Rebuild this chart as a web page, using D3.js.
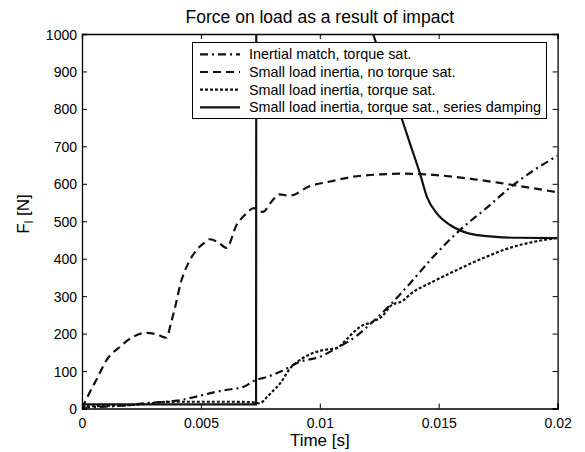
<!DOCTYPE html>
<html>
<head>
<meta charset="utf-8">
<script src="https://cdn.jsdelivr.net/npm/d3@7"></script>
<style>
  html, body { margin: 0; padding: 0; background: #fff; }
  svg { display: block; font-family: "Liberation Sans", Arial, Helvetica, sans-serif; }
</style>
</head>
<body>
<svg id="chart" width="585" height="452"></svg>
<script>
// ---- data (time in ms, force in N) ----
const titleText = "Force on load as a result of impact";
const xTicks = [0, 0.005, 0.01, 0.015, 0.02];
const xTickLabels = ["0", "0.005", "0.01", "0.015", "0.02"];
const yTicks = [0, 100, 200, 300, 400, 500, 600, 700, 800, 900, 1000];
const seriesNames = [
  "Inertial match, torque sat.",
  "Small load inertia, no torque sat.",
  "Small load inertia, torque sat.",
  "Small load inertia, torque sat., series damping"
];

const inertialT = [0, 1, 2, 2.6, 3.3, 4.0, 4.7, 5.4, 6.1, 6.8, 7.34, 7.6, 8.33, 9.17, 10.0, 10.7, 11.55, 12.25, 12.95, 13.79, 14.77, 15.9, 17.0, 18.14, 19.0, 20.0];
const inertialF = [2, 5, 9, 14, 17, 21, 30, 41, 50, 58, 77, 81, 98, 125, 138, 161, 194, 233, 276, 334, 405, 477, 535, 597, 636, 675];

const noSatT = [0, 0.3, 0.6, 1.04, 1.6, 2.16, 2.72, 3.14, 3.55, 3.75, 3.95, 4.15, 4.47, 4.82, 5.1, 5.38, 5.7, 6.08, 6.5, 6.85, 7.23, 7.6, 8.0, 8.3, 8.7, 9.0, 9.45, 10.43, 11.41, 12.53, 13.5, 14.5, 15.61, 16.5, 17.5, 18.2, 19.0, 20.0];
const noSatF = [0, 40, 76, 130, 165, 192, 202, 198, 189, 230, 280, 335, 388, 423, 440, 452, 445, 429, 490, 517, 535, 525, 555, 572, 568, 573, 590, 606, 619, 625, 627, 625, 619, 612, 603, 596, 588, 577];

const satT = [0, 1, 2, 2.8, 3.3, 4.0, 4.74, 5.5, 6.3, 7.1, 7.47, 7.8, 8.0, 8.33, 8.75, 9.17, 9.59, 10.15, 10.7, 11.13, 11.3, 11.69, 12.25, 12.6, 13.0, 13.5, 13.8, 14.77, 15.9, 17.0, 18.14, 19.0, 20.0];
const satF = [5, 7, 9, 13, 17, 18, 18, 18, 18, 17, 14, 32, 45, 67, 107, 130, 145, 156, 161, 185, 196, 218, 232, 245, 275, 288, 305, 339, 374, 405, 432, 445, 456];

const dampT = [0, 7.32, 7.33, 11.7, 12.24, 12.8, 13.44, 13.79, 14.21, 14.5, 14.92, 15.48, 16.18, 16.9, 18.28, 20.0];
const dampF = [11, 11, 1200, 1100, 1000, 895, 775, 708, 628, 566, 521, 490, 469, 461, 456, 455];

// ---- layout ----
const svg = d3.select("#chart");
const L = 82, R = 557.6, T = 34, B = 408.5;
const x = d3.scaleLinear().domain([0, 0.02]).range([L, R]);
const y = d3.scaleLinear().domain([0, 1000]).range([B, T]);

svg.append("defs").append("clipPath").attr("id", "plotclip")
  .append("rect").attr("x", L).attr("y", T).attr("width", R - L).attr("height", B - T);

const toPts = (ts, fs) => ts.map((t, i) => [t / 1000, fs[i]]);
const line = d3.line().x(d => x(d[0])).y(d => y(d[1])).curve(d3.curveMonotoneX);

const styles = [
  { dash: "8,4,2,4" },
  { dash: "8,5" },
  { dash: "3,2" },
  { dash: null }
];
const data = [
  toPts(inertialT, inertialF),
  toPts(noSatT, noSatF),
  toPts(satT, satF),
  toPts(dampT, dampF)
];

// axes
const axisColor = "#000";
const gx = svg.append("g").attr("transform", `translate(0,${B})`)
  .call(d3.axisBottom(x).tickValues(xTicks).tickSize(-5).tickPadding(10)
    .tickFormat((d, i) => xTickLabels[i]));
const gxt = svg.append("g").attr("transform", `translate(0,${T})`)
  .call(d3.axisTop(x).tickValues(xTicks).tickSize(-5).tickFormat(""));
const gy = svg.append("g").attr("transform", `translate(${L},0)`)
  .call(d3.axisLeft(y).tickValues(yTicks).tickSize(-5).tickPadding(5).tickFormat(d3.format("d")));
const gyr = svg.append("g").attr("transform", `translate(${R},0)`)
  .call(d3.axisRight(y).tickValues(yTicks).tickSize(-5).tickFormat(""));
[gx, gxt, gy, gyr].forEach(g => {
  g.select(".domain").attr("stroke", axisColor).attr("stroke-width", 1.3);
  g.selectAll(".tick line").attr("stroke", axisColor).attr("stroke-width", 1);
  g.selectAll(".tick text").attr("fill", "#000").style("font-size", "14px")
    .style("font-family", '"Liberation Sans", Arial, sans-serif');
});
gy.selectAll(".tick text").attr("dy", "0.36em");

// curves
const plot = svg.append("g").attr("clip-path", "url(#plotclip)");
data.forEach((pts, i) => {
  plot.append("path").datum(pts)
    .attr("d", line)
    .attr("fill", "none")
    .attr("stroke", "#111")
    .attr("stroke-width", 2.2)
    .attr("stroke-dasharray", styles[i].dash);
});

// title & labels
svg.append("text").attr("x", (L + R) / 2).attr("y", 23).attr("text-anchor", "middle")
  .style("font-size", "17.5px").text(titleText);
svg.append("text").attr("x", (L + R) / 2).attr("y", 446).attr("text-anchor", "middle")
  .style("font-size", "17px").text("Time [s]");
const yl = svg.append("text").attr("transform", `translate(29,214) rotate(-90)`)
  .attr("text-anchor", "middle").style("font-size", "17px");
yl.append("tspan").text("F");
yl.append("tspan").attr("dy", 4).style("font-size", "12px").text("l");
yl.append("tspan").attr("dy", -4).text(" [N]");

// legend
const lg = svg.append("g");
lg.append("rect").attr("x", 192.5).attr("y", 42.5).attr("width", 354).attr("height", 76)
  .attr("fill", "#fff").attr("stroke", "#000").attr("stroke-width", 1);
const rowY = [54.3, 72, 89.6, 107.3];
seriesNames.forEach((name, i) => {
  lg.append("line").attr("x1", 200).attr("x2", 240).attr("y1", rowY[i]).attr("y2", rowY[i])
    .attr("stroke", "#111").attr("stroke-width", 2.2).attr("stroke-dasharray", styles[i].dash);
  lg.append("text").attr("x", 249).attr("y", rowY[i]).attr("dy", "0.35em")
    .style("font-size", "14.4px").text(name);
});
</script>
</body>
</html>
